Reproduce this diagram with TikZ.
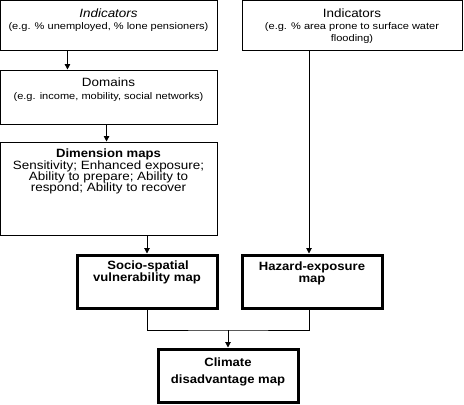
\documentclass[tikz,border=0pt]{standalone}
\usepackage{fontspec}
\setmainfont{Liberation Sans}
\newfontfamily\regwide[FakeStretch=1.12]{Liberation Sans}
\newfontfamily\smallwide[FakeStretch=1.15]{Liberation Sans}
\newfontfamily\boldwide[FakeStretch=1.09]{Liberation Sans}
\usetikzlibrary{arrows.meta,calc}
\begin{document}
\begin{tikzpicture}[x=0.75pt,y=-0.75pt,
  thinbox/.style={draw,line width=0.75pt,inner sep=0pt},
  thickbox/.style={draw,line width=2.25pt,inner sep=0pt},
  conn/.style={line width=0.75pt},
  arr/.style={line width=0.75pt,-{Triangle[width=4pt,length=4pt]}},
  bigtxt/.style={font=\regwide\fontsize{9}{9}\selectfont,inner sep=0pt,align=center,text height=6.5pt,text depth=1.5pt},
  smalltxt/.style={font=\smallwide\fontsize{7.2}{9}\selectfont,inner sep=0pt,align=center,text height=5.2pt,text depth=1.2pt},
  boldtxt/.style={font=\boldwide\fontsize{9}{9}\bfseries\selectfont,inner sep=0pt,align=center,text height=6.5pt,text depth=1.5pt}]
\useasboundingbox (0,0) rectangle (464,404);
\fill[white] (0,0) rectangle (464,404);
% boxes
\node[thinbox,minimum width=216.5*0.75pt,minimum height=49.5*0.75pt] (i1) at (108.75,25.25) {};
\node[thinbox,minimum width=216.5*0.75pt,minimum height=54*0.75pt] (d) at (108.75,97) {};
\node[thinbox,minimum width=216.5*0.75pt,minimum height=93*0.75pt] (dim) at (108.75,188.5) {};
\node[thinbox,minimum width=220*0.75pt,minimum height=49.5*0.75pt] (i2) at (352,25.25) {};
\node[thickbox,minimum width=140*0.75pt,minimum height=53*0.75pt] (soc) at (147,281.5) {};
\node[thickbox,minimum width=140*0.75pt,minimum height=53*0.75pt] (haz) at (312,281.5) {};
\node[thickbox,minimum width=140*0.75pt,minimum height=53*0.75pt] (cli) at (228,375.5) {};
% texts
\node[bigtxt] (t1a) at (108.5,14) {\itshape Indicators};
\node[smalltxt] (t1b) at (108.5,27) {(e.g. \% unemployed, \% lone pensioners)};
\node[bigtxt] (t2a) at (108.5,83) {Domains};
\node[smalltxt] (t2b) at (108.5,97) {(e.g. income, mobility, social networks)};
\node[boldtxt] (t3a) at (108.5,154.5) {Dimension maps};
\node[bigtxt] (t3b) at (108.5,166) {Sensitivity; Enhanced exposure;};
\node[bigtxt] (t3c) at (108.5,177) {Ability to prepare; Ability to};
\node[bigtxt] (t3d) at (108.5,188) {respond; Ability to recover};
\node[bigtxt] (t4a) at (352,14) {Indicators};
\node[smalltxt] (t4b) at (352,27) {(e.g. \% area prone to surface water};
\node[smalltxt] (t4c) at (352,39) {flooding)};
\node[boldtxt] (t5a) at (148,266.5) {Socio-spatial};
\node[boldtxt] (t5b) at (147,278) {vulnerability map};
\node[boldtxt] (t6a) at (312,267) {Hazard-exposure};
\node[boldtxt] (t6b) at (312,279) {map};
\node[boldtxt] (t7a) at (228,363) {Climate};
\node[boldtxt] (t7b) at (228,380) {disadvantage map};
% connectors
\draw[arr] ([xshift=50.6pt]i1.south west) -- ([xshift=50.6pt]d.north west);
\draw[arr] ([xshift=79.9pt]d.south west) -- ([xshift=79.9pt]dim.north west);
\draw[arr] (soc.north |- dim.south) -- (soc.north);
\draw[arr] ([xshift=-2.25pt]haz.north |- i2.south) -- ([xshift=-2.25pt]haz.north);
\coordinate (m) at (228,330);
\draw[conn] (soc.south) |- (m) -| ([xshift=-2.25pt]haz.south);
\draw[arr] (m) -- (cli.north);
\end{tikzpicture}
\end{document}
